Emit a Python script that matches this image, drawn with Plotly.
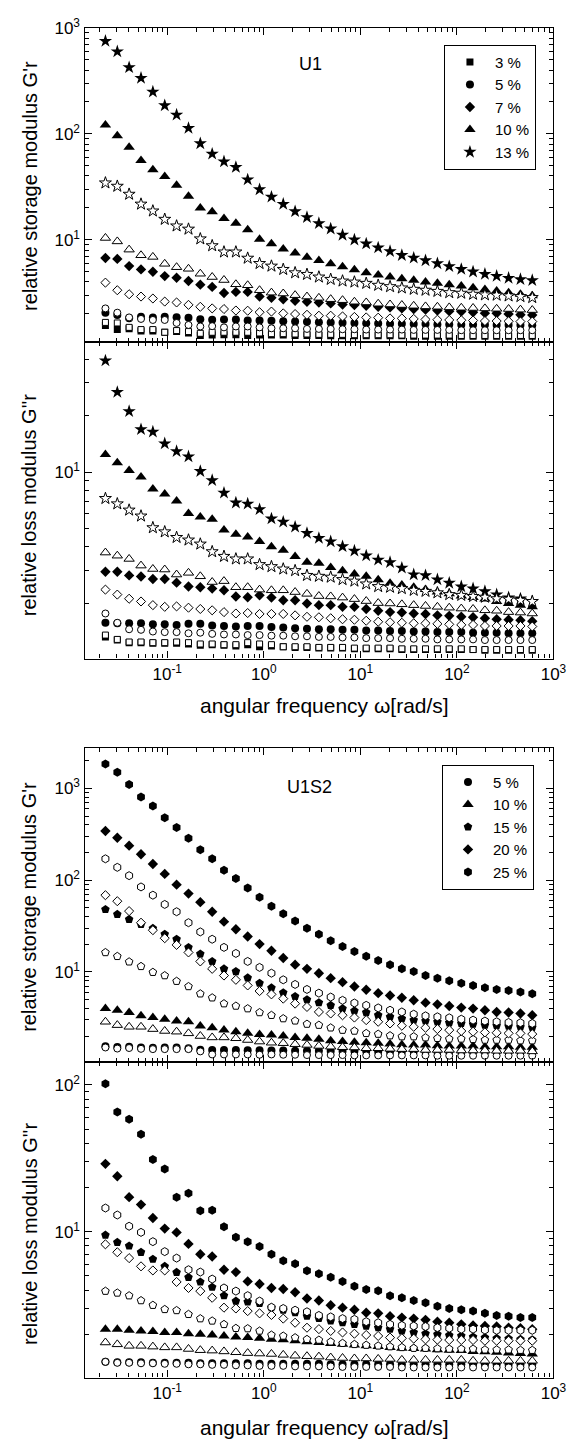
import plotly.graph_objects as go

# angular frequency (rad/s)
freq = [0.0229, 0.0304, 0.0403, 0.0535, 0.0710, 0.0942, 0.125, 0.166, 0.220, 0.292,
        0.387, 0.514, 0.681, 0.904, 1.20, 1.59, 2.11, 2.80, 3.72, 4.93,
        6.54, 8.68, 11.5, 15.3, 20.3, 26.9, 35.7, 47.3, 62.8, 83.3,
        111, 147, 195, 258, 343, 455, 603]

# ---------- U1, relative storage modulus G'r ----------
u1_g_3_f = [1.55, 1.42, 1.45, 1.38, 1.38, 1.34, 1.36, 1.32, 1.25, 1.26, 1.27, 1.27, 1.25, 1.26, 1.26, 1.26, 1.25, 1.25, 1.25, 1.24, 1.24, 1.24, 1.24, 1.24, 1.24, 1.24, 1.23, 1.23, 1.23, 1.23, 1.23, 1.23, 1.23, 1.23, 1.23, 1.23, 1.23]
u1_g_3_o = [1.66, 1.64, 1.49, 1.42, 1.42, 1.34, 1.39, 1.36, 1.31, 1.34, 1.34, 1.34, 1.34, 1.32, 1.30, 1.30, 1.29, 1.29, 1.28, 1.28, 1.28, 1.27, 1.27, 1.27, 1.27, 1.26, 1.26, 1.26, 1.26, 1.26, 1.25, 1.25, 1.25, 1.25, 1.25, 1.25, 1.25]
u1_g_5_f = [2.05, 1.95, 1.82, 1.88, 1.85, 1.88, 1.86, 1.84, 1.78, 1.76, 1.77, 1.77, 1.73, 1.73, 1.72, 1.70, 1.69, 1.68, 1.67, 1.66, 1.65, 1.64, 1.63, 1.62, 1.61, 1.61, 1.60, 1.60, 1.59, 1.59, 1.58, 1.58, 1.58, 1.57, 1.57, 1.57, 1.56]
u1_g_5_o = [2.25, 2.05, 1.85, 1.79, 1.75, 1.75, 1.64, 1.57, 1.52, 1.53, 1.49, 1.52, 1.52, 1.49, 1.46, 1.46, 1.46, 1.44, 1.44, 1.44, 1.43, 1.43, 1.42, 1.42, 1.42, 1.42, 1.41, 1.41, 1.41, 1.41, 1.40, 1.40, 1.40, 1.40, 1.40, 1.40, 1.40]
u1_g_7_f = [6.74, 6.60, 5.64, 5.25, 4.99, 4.54, 4.38, 4.08, 3.77, 3.59, 3.15, 3.22, 3.22, 2.91, 2.83, 2.75, 2.66, 2.60, 2.56, 2.51, 2.45, 2.42, 2.38, 2.33, 2.30, 2.25, 2.22, 2.19, 2.15, 2.12, 2.10, 2.07, 2.03, 2.02, 1.99, 1.96, 1.95]
u1_g_7_o = [3.94, 3.34, 3.06, 2.91, 2.79, 2.61, 2.56, 2.43, 2.33, 2.25, 2.22, 2.15, 2.14, 2.07, 2.10, 2.02, 1.99, 1.96, 1.92, 1.92, 1.89, 1.87, 1.85, 1.84, 1.81, 1.81, 1.79, 1.77, 1.76, 1.75, 1.74, 1.73, 1.71, 1.71, 1.70, 1.69, 1.69]
u1_g_10_f = [121, 95.7, 74.5, 55.9, 45.7, 39.6, 32.7, 25.8, 20.0, 18.4, 15.9, 14.3, 12.4, 10.1, 9.18, 8.18, 7.50, 6.84, 6.37, 5.93, 5.56, 5.21, 4.88, 4.64, 4.45, 4.29, 4.14, 3.99, 3.88, 3.77, 3.66, 3.52, 3.40, 3.28, 3.16, 3.06, 2.97]
u1_g_10_o = [10.4, 9.65, 8.07, 7.14, 6.89, 5.93, 5.51, 5.32, 4.78, 4.45, 4.17, 3.80, 3.72, 3.34, 3.17, 3.11, 3.00, 2.91, 2.83, 2.75, 2.69, 2.60, 2.56, 2.49, 2.45, 2.42, 2.38, 2.35, 2.33, 2.30, 2.28, 2.27, 2.25, 2.23, 2.22, 2.19, 2.17]
u1_g_13_f = [750, 597, 423, 336, 249, 185, 151, 113, 81, 64.6, 54.7, 48.4, 36.9, 29.8, 25.4, 21.7, 18.5, 16.3, 14.3, 12.7, 11.1, 10.0, 9.18, 8.42, 7.78, 7.14, 6.74, 6.37, 5.97, 5.60, 5.28, 4.99, 4.74, 4.54, 4.35, 4.23, 4.14]
u1_g_13_o = [34.4, 32.0, 26.9, 21.7, 18.7, 15.6, 13.5, 12.6, 10.2, 8.79, 7.67, 7.67, 6.70, 5.97, 5.64, 5.25, 4.88, 4.71, 4.45, 4.23, 4.08, 3.99, 3.88, 3.72, 3.61, 3.51, 3.41, 3.34, 3.26, 3.17, 3.13, 3.06, 3.02, 3.00, 2.95, 2.91, 2.85]

# ---------- U1, relative loss modulus G''r ----------
u1_l_3_f = [1.32, 1.27, 1.23, 1.23, 1.22, 1.22, 1.22, 1.21, 1.19, 1.20, 1.19, 1.18, 1.20, 1.17, 1.18, 1.17, 1.16, 1.16, 1.15, 1.15, 1.15, 1.14, 1.14, 1.14, 1.14, 1.13, 1.13, 1.13, 1.13, 1.13, 1.13, 1.13, 1.12, 1.12, 1.12, 1.12, 1.12]
u1_l_3_o = [1.35, 1.28, 1.24, 1.24, 1.23, 1.23, 1.24, 1.23, 1.21, 1.21, 1.20, 1.20, 1.23, 1.21, 1.20, 1.17, 1.17, 1.17, 1.16, 1.16, 1.16, 1.15, 1.15, 1.15, 1.15, 1.14, 1.14, 1.14, 1.14, 1.14, 1.14, 1.13, 1.13, 1.13, 1.13, 1.13, 1.13]
u1_l_5_f = [1.57, 1.56, 1.56, 1.56, 1.54, 1.54, 1.53, 1.55, 1.55, 1.52, 1.51, 1.50, 1.51, 1.51, 1.49, 1.48, 1.47, 1.46, 1.45, 1.45, 1.44, 1.44, 1.43, 1.43, 1.42, 1.42, 1.41, 1.41, 1.40, 1.40, 1.40, 1.39, 1.39, 1.39, 1.38, 1.38, 1.38]
u1_l_5_o = [1.76, 1.57, 1.45, 1.44, 1.41, 1.40, 1.40, 1.38, 1.39, 1.37, 1.36, 1.36, 1.35, 1.35, 1.34, 1.34, 1.33, 1.33, 1.32, 1.32, 1.31, 1.31, 1.30, 1.30, 1.30, 1.29, 1.29, 1.29, 1.28, 1.28, 1.28, 1.28, 1.27, 1.27, 1.27, 1.27, 1.27]
u1_l_7_f = [2.94, 2.94, 2.81, 2.77, 2.69, 2.69, 2.57, 2.45, 2.43, 2.39, 2.34, 2.17, 2.15, 2.20, 2.14, 2.07, 2.07, 1.99, 1.95, 1.95, 1.91, 1.91, 1.86, 1.82, 1.79, 1.78, 1.76, 1.75, 1.72, 1.71, 1.69, 1.68, 1.66, 1.64, 1.63, 1.62, 1.60]
u1_l_7_o = [2.36, 2.22, 2.11, 2.04, 1.95, 1.91, 1.92, 1.89, 1.86, 1.83, 1.79, 1.76, 1.77, 1.75, 1.75, 1.75, 1.72, 1.69, 1.68, 1.66, 1.64, 1.63, 1.61, 1.59, 1.58, 1.57, 1.56, 1.56, 1.55, 1.54, 1.53, 1.53, 1.51, 1.51, 1.51, 1.51, 1.50]
u1_l_10_f = [12.4, 11.2, 10.2, 9.41, 8.13, 7.65, 7.00, 6.02, 5.76, 5.60, 4.91, 4.66, 4.51, 4.26, 3.99, 3.83, 3.55, 3.30, 3.26, 3.10, 2.98, 2.86, 2.78, 2.66, 2.55, 2.50, 2.43, 2.36, 2.29, 2.24, 2.18, 2.14, 2.10, 2.04, 1.99, 1.95, 1.91]
u1_l_10_o = [3.72, 3.58, 3.44, 3.17, 3.04, 3.02, 2.84, 2.90, 2.78, 2.59, 2.62, 2.43, 2.43, 2.36, 2.34, 2.34, 2.29, 2.24, 2.18, 2.17, 2.14, 2.10, 2.05, 2.00, 1.99, 1.97, 1.95, 1.93, 1.91, 1.89, 1.87, 1.86, 1.83, 1.82, 1.79, 1.78, 1.76]
u1_l_13_f = [39.3, 26.7, 21.1, 16.9, 16.4, 14.2, 12.9, 12.1, 10.1, 9.04, 7.74, 6.86, 6.77, 6.32, 5.64, 5.42, 5.10, 4.72, 4.44, 4.26, 4.01, 3.80, 3.58, 3.40, 3.30, 3.08, 2.84, 2.81, 2.67, 2.56, 2.45, 2.39, 2.31, 2.22, 2.14, 2.11, 2.04]
u1_l_13_o = [7.23, 6.77, 6.27, 5.83, 5.05, 4.80, 4.48, 4.34, 4.13, 3.76, 3.55, 3.44, 3.44, 3.21, 3.13, 3.04, 2.98, 2.81, 2.78, 2.75, 2.67, 2.62, 2.53, 2.45, 2.43, 2.39, 2.34, 2.31, 2.27, 2.22, 2.20, 2.17, 2.15, 2.11, 2.10, 2.07, 2.04]

# ---------- U1S2, relative storage modulus G'r ----------
u1s2_g_5_f = [1.55, 1.52, 1.53, 1.50, 1.49, 1.50, 1.50, 1.47, 1.42, 1.41, 1.41, 1.41, 1.40, 1.40, 1.39, 1.39, 1.38, 1.38, 1.38, 1.37, 1.37, 1.37, 1.37, 1.36, 1.36, 1.36, 1.36, 1.36, 1.36, 1.35, 1.35, 1.35, 1.35, 1.35, 1.35, 1.35, 1.35]
u1s2_g_5_o = [1.50, 1.46, 1.48, 1.45, 1.44, 1.44, 1.44, 1.44, 1.36, 1.26, 1.26, 1.26, 1.26, 1.25, 1.26, 1.25, 1.25, 1.24, 1.24, 1.24, 1.24, 1.23, 1.23, 1.23, 1.23, 1.23, 1.23, 1.23, 1.22, 1.22, 1.22, 1.22, 1.22, 1.22, 1.22, 1.22, 1.22]
u1s2_g_10_f = [3.98, 3.82, 3.61, 3.32, 3.18, 3.05, 2.91, 2.86, 2.57, 2.46, 2.32, 2.23, 2.14, 2.08, 2.05, 2.00, 1.93, 1.89, 1.84, 1.78, 1.74, 1.71, 1.69, 1.67, 1.64, 1.61, 1.60, 1.60, 1.57, 1.56, 1.56, 1.56, 1.53, 1.53, 1.53, 1.51, 1.51]
u1s2_g_10_o = [2.86, 2.63, 2.52, 2.52, 2.38, 2.27, 2.23, 2.14, 2.00, 1.93, 1.93, 1.89, 1.81, 1.74, 1.69, 1.67, 1.63, 1.60, 1.56, 1.53, 1.51, 1.50, 1.47, 1.47, 1.45, 1.44, 1.44, 1.41, 1.41, 1.41, 1.39, 1.39, 1.39, 1.38, 1.38, 1.38, 1.36]
u1s2_g_15_f = [48.0, 42.4, 37.4, 33.0, 29.9, 25.8, 22.7, 18.5, 15.7, 13.0, 10.8, 10.1, 8.61, 7.54, 6.71, 5.93, 5.41, 4.98, 4.62, 4.32, 3.98, 3.76, 3.61, 3.37, 3.24, 3.10, 2.98, 2.93, 2.86, 2.79, 2.74, 2.70, 2.63, 2.59, 2.57, 2.52, 2.48]
u1s2_g_15_o = [16.3, 14.8, 12.9, 11.5, 9.92, 9.13, 7.92, 6.94, 5.78, 5.23, 4.51, 4.25, 3.98, 3.61, 3.37, 3.10, 2.93, 2.70, 2.63, 2.46, 2.32, 2.27, 2.14, 2.10, 2.02, 1.97, 1.97, 1.92, 1.89, 1.86, 1.86, 1.84, 1.81, 1.81, 1.81, 1.78, 1.78]
u1s2_g_20_f = [343, 290, 238, 192, 150, 117, 89.4, 71.4, 57.6, 45.3, 35.3, 29.2, 24.3, 20.1, 17.0, 14.2, 12.0, 10.8, 9.68, 8.55, 7.73, 6.94, 6.38, 5.87, 5.54, 5.23, 4.90, 4.62, 4.43, 4.25, 4.08, 3.98, 3.82, 3.66, 3.61, 3.52, 3.37]
u1s2_g_20_o = [68.6, 59.0, 46.0, 34.4, 28.5, 23.3, 19.7, 16.3, 13.0, 10.8, 9.13, 8.20, 7.12, 6.18, 5.69, 5.11, 4.51, 4.15, 3.66, 3.52, 3.37, 3.18, 2.98, 2.86, 2.74, 2.59, 2.52, 2.46, 2.38, 2.32, 2.27, 2.23, 2.19, 2.17, 2.14, 2.14, 2.10]
u1s2_g_25_f = [1849, 1503, 1105, 806, 644, 478, 376, 286, 214, 171, 128, 104, 82.3, 65.2, 52.1, 43.1, 35.9, 29.9, 25.8, 21.8, 18.9, 16.7, 14.8, 13.3, 12.0, 10.8, 10.1, 9.13, 8.55, 8.00, 7.54, 7.12, 6.71, 6.44, 6.28, 6.03, 5.78]
u1s2_g_25_o = [171, 138, 112, 84.4, 68.6, 54.4, 45.3, 34.4, 27.3, 22.7, 18.5, 15.9, 13.0, 11.2, 9.68, 8.20, 7.30, 6.44, 5.87, 5.32, 4.90, 4.58, 4.32, 4.05, 3.82, 3.66, 3.46, 3.32, 3.24, 3.16, 3.05, 2.98, 2.91, 2.86, 2.81, 2.79, 2.74]

# ---------- U1S2, relative loss modulus G''r ----------
u1s2_l_5_f = [1.30, 1.29, 1.29, 1.29, 1.28, 1.28, 1.28, 1.28, 1.27, 1.27, 1.27, 1.27, 1.27, 1.26, 1.26, 1.26, 1.26, 1.26, 1.26, 1.25, 1.25, 1.25, 1.25, 1.25, 1.25, 1.25, 1.25, 1.25, 1.25, 1.25, 1.25, 1.25, 1.25, 1.25, 1.25, 1.25, 1.25]
u1s2_l_5_o = [1.30, 1.28, 1.28, 1.27, 1.27, 1.26, 1.26, 1.25, 1.25, 1.24, 1.24, 1.23, 1.23, 1.22, 1.22, 1.22, 1.21, 1.21, 1.21, 1.21, 1.20, 1.20, 1.20, 1.20, 1.20, 1.19, 1.19, 1.19, 1.19, 1.19, 1.19, 1.19, 1.19, 1.19, 1.19, 1.19, 1.19]
u1s2_l_10_f = [2.17, 2.17, 2.13, 2.11, 2.09, 2.06, 2.06, 2.02, 2.00, 1.98, 1.95, 1.92, 1.90, 1.88, 1.85, 1.84, 1.81, 1.78, 1.76, 1.73, 1.71, 1.69, 1.67, 1.65, 1.63, 1.61, 1.60, 1.59, 1.57, 1.56, 1.55, 1.53, 1.52, 1.51, 1.49, 1.48, 1.47]
u1s2_l_10_o = [1.76, 1.71, 1.67, 1.67, 1.65, 1.63, 1.63, 1.59, 1.56, 1.55, 1.53, 1.51, 1.49, 1.48, 1.47, 1.45, 1.43, 1.42, 1.41, 1.39, 1.38, 1.37, 1.37, 1.36, 1.36, 1.34, 1.34, 1.34, 1.34, 1.34, 1.34, 1.32, 1.32, 1.32, 1.32, 1.32, 1.32]
u1s2_l_15_f = [9.49, 8.47, 8.00, 7.25, 6.50, 5.81, 5.29, 4.89, 4.55, 4.19, 3.67, 3.37, 3.33, 3.25, 3.04, 2.92, 2.81, 2.66, 2.57, 2.47, 2.40, 2.34, 2.28, 2.22, 2.17, 2.11, 2.06, 2.02, 2.00, 1.97, 1.95, 1.92, 1.90, 1.88, 1.87, 1.85, 1.84]
u1s2_l_15_o = [3.94, 3.83, 3.67, 3.40, 3.16, 2.96, 2.91, 2.74, 2.56, 2.47, 2.34, 2.20, 2.19, 2.11, 1.98, 1.95, 1.90, 1.85, 1.83, 1.78, 1.74, 1.71, 1.69, 1.67, 1.65, 1.63, 1.61, 1.61, 1.60, 1.59, 1.59, 1.59, 1.57, 1.57, 1.57, 1.56, 1.56]
u1s2_l_20_f = [29.0, 23.9, 17.2, 15.3, 12.4, 10.5, 9.90, 8.26, 7.03, 6.78, 5.51, 5.31, 4.59, 4.41, 4.14, 4.07, 3.87, 3.51, 3.40, 3.16, 3.04, 2.94, 2.81, 2.78, 2.66, 2.60, 2.56, 2.51, 2.44, 2.40, 2.34, 2.30, 2.28, 2.26, 2.22, 2.20, 2.17]
u1s2_l_20_o = [8.21, 7.25, 6.61, 5.81, 5.45, 5.45, 4.55, 4.14, 3.94, 3.55, 3.04, 3.00, 2.88, 2.78, 2.71, 2.56, 2.40, 2.22, 2.17, 2.11, 2.06, 2.02, 1.98, 1.95, 1.90, 1.88, 1.87, 1.85, 1.84, 1.83, 1.83, 1.83, 1.81, 1.81, 1.81, 1.81, 1.81]
u1s2_l_25_f = [102, 65.3, 58.3, 46.2, 31.0, 26.8, 17.2, 18.3, 13.9, 14.0, 10.8, 9.16, 8.56, 7.92, 7.03, 6.34, 6.05, 5.42, 5.18, 4.89, 4.59, 4.25, 4.04, 3.97, 3.67, 3.55, 3.40, 3.28, 3.11, 3.00, 2.94, 2.88, 2.78, 2.69, 2.66, 2.60, 2.60]
u1s2_l_25_o = [14.5, 13.0, 10.9, 9.90, 8.56, 7.32, 6.61, 5.51, 5.31, 4.76, 4.14, 3.94, 3.67, 3.37, 3.06, 3.00, 2.92, 2.85, 2.69, 2.63, 2.56, 2.53, 2.44, 2.40, 2.34, 2.30, 2.28, 2.26, 2.22, 2.20, 2.17, 2.17, 2.14, 2.13, 2.13, 2.13, 2.13]

u1_labels = ["3 %", "5 %", "7 %", "10 %", "13 %"]
u1s2_labels = ["5 %", "10 %", "15 %", "20 %", "25 %"]
u1_symbols = ["square", "circle", "diamond", "triangle-up", "star"]
u1s2_symbols = ["circle", "triangle-up", "pentagon", "diamond", "hexagon"]
sizes = {"square": 7, "circle": 8, "diamond": 8, "triangle-up": 10,
         "star": 10, "pentagon": 9, "hexagon": 9}

FONT = "Liberation Sans, Arial, Helvetica, sans-serif"
fig = go.Figure()

def add_panel(filled, opened, labels, symbols, xa, ya, legend_name, show_legend):
    for ys, lab, sym in zip(filled, labels, symbols):
        fig.add_trace(go.Scatter(
            x=freq, y=ys, mode="markers", name=lab,
            marker=dict(symbol=sym, size=sizes[sym], color="black",
                        line=dict(width=0)),
            xaxis=xa, yaxis=ya, legend=legend_name, showlegend=show_legend))
    for ys, lab, sym in zip(opened, labels, symbols):
        fig.add_trace(go.Scatter(
            x=freq, y=ys, mode="markers", name=lab + " (open)",
            marker=dict(symbol=sym, size=sizes[sym] - 1, color="white",
                        line=dict(width=1, color="black")),
            xaxis=xa, yaxis=ya, showlegend=False))

add_panel([u1_g_3_f, u1_g_5_f, u1_g_7_f, u1_g_10_f, u1_g_13_f],
          [u1_g_3_o, u1_g_5_o, u1_g_7_o, u1_g_10_o, u1_g_13_o],
          u1_labels, u1_symbols, "x", "y", "legend", True)
add_panel([u1_l_3_f, u1_l_5_f, u1_l_7_f, u1_l_10_f, u1_l_13_f],
          [u1_l_3_o, u1_l_5_o, u1_l_7_o, u1_l_10_o, u1_l_13_o],
          u1_labels, u1_symbols, "x2", "y2", "legend", False)
add_panel([u1s2_g_5_f, u1s2_g_10_f, u1s2_g_15_f, u1s2_g_20_f, u1s2_g_25_f],
          [u1s2_g_5_o, u1s2_g_10_o, u1s2_g_15_o, u1s2_g_20_o, u1s2_g_25_o],
          u1s2_labels, u1s2_symbols, "x3", "y3", "legend2", True)
add_panel([u1s2_l_5_f, u1s2_l_10_f, u1s2_l_15_f, u1s2_l_20_f, u1s2_l_25_f],
          [u1s2_l_5_o, u1s2_l_10_o, u1s2_l_15_o, u1s2_l_20_o, u1s2_l_25_o],
          u1s2_labels, u1s2_symbols, "x4", "y4", "legend2", False)

W, H = 587, 1439
def px_x(p):
    return p / W
def px_y(p):
    return 1 - p / H

decades = [-3, -2, -1, 0, 1, 2, 3, 4]
major_vals = [10.0 ** d for d in decades]
major_text = ["10<sup>%d</sup>" % d for d in decades]
minor_vals = [m * 10.0 ** d for d in decades for m in range(2, 10)]

def axis_common(show_labels):
    return dict(type="log", showline=True, linecolor="black", linewidth=1.4,
                mirror="allticks", ticks="inside", ticklen=7, tickwidth=1.3,
                tickcolor="black", showgrid=False, zeroline=False,
                tickmode="array", tickvals=major_vals, ticktext=major_text,
                showticklabels=show_labels,
                tickfont=dict(family=FONT, size=17, color="black"),
                minor=dict(tickmode="array", tickvals=minor_vals, ticks="inside",
                           ticklen=4, tickwidth=1, tickcolor="black", showgrid=False))

xdom = [px_x(86.5), px_x(566)]
xr = [-1.856, 3.0]
panels = [  # (top px, bottom px, y log-range, show x labels)
    (16, 333, [0.033, 3.0], False),
    (333, 652, [0.005, 1.693], True),
    (742, 1059, [0.016, 3.443], False),
    (1059, 1377, [0.007, 2.155], True),
]
layout_axes = {}
for i, (top, bot, yr, showx) in enumerate(panels, start=1):
    sfx = "" if i == 1 else str(i)
    xa = axis_common(showx)
    xa.update(domain=xdom, range=xr, anchor="y" + sfx)
    ya = axis_common(True)
    ya.update(domain=[px_y(bot), px_y(top)], range=yr, anchor="x" + sfx)
    layout_axes["xaxis" + sfx] = xa
    layout_axes["yaxis" + sfx] = ya

annotations = []
def ann(text, x, y, size, angle=0):
    annotations.append(dict(text=text, x=px_x(x), y=px_y(y), xref="paper", yref="paper",
                            showarrow=False, textangle=angle, xanchor="center",
                            yanchor="middle",
                            font=dict(family=FONT, size=size, color="black")))

ann("U1", 318, 52, 18)
ann("U1S2", 316, 782, 18)
ann("relative storage modulus G'r", 30, 175, 20, -90)
ann("relative loss modulus G''r", 30, 497, 20, -90)
ann("relative storage modulus G'r", 30, 902, 20, -90)
ann("relative loss modulus G''r", 30, 1232, 20, -90)
ann("angular frequency \u03c9[rad/s]", 332, 699, 21)
ann("angular frequency \u03c9[rad/s]", 332, 1427, 21)

legend_style = dict(bgcolor="white", bordercolor="black", borderwidth=1,
                    font=dict(family=FONT, size=15, color="black"),
                    xanchor="left", yanchor="top", tracegroupgap=0,
                    itemwidth=40)

fig.update_layout(
    width=W, height=H, margin=dict(l=0, r=0, t=0, b=0, pad=0),
    paper_bgcolor="white", plot_bgcolor="white",
    font=dict(family=FONT, color="black"),
    annotations=annotations,
    legend=dict(x=px_x(454), y=px_y(33), **legend_style),
    legend2=dict(x=px_x(452), y=px_y(759), **legend_style),
    **layout_axes,
)

fig.write_html("out.html")
